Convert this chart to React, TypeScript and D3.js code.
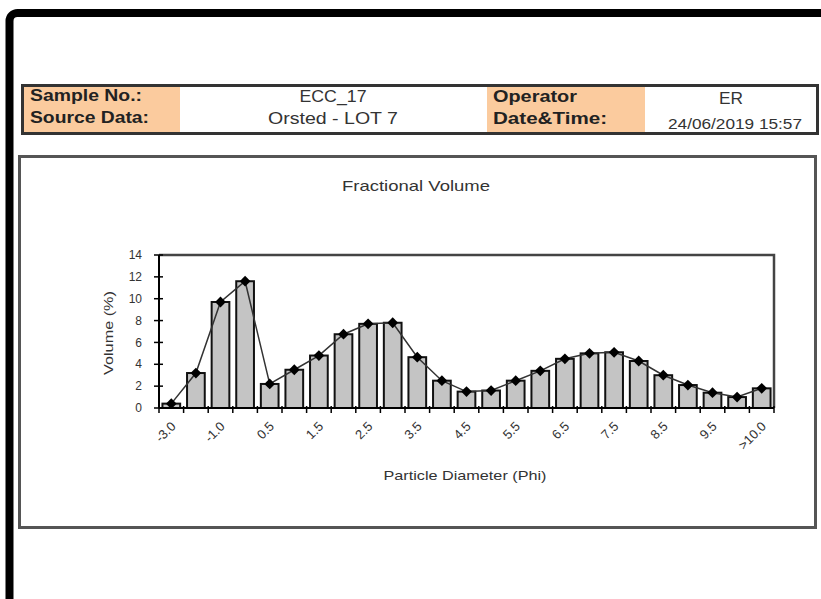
import React from 'react'
import * as d3 from 'd3'

// phi classes on the x axis
const categories = ['-3.0', '-2.0', '-1.0', '0.0', '0.5', '1.0', '1.5', '2.0', '2.5', '3.0', '3.5', '4.0', '4.5', '5.0', '5.5', '6.0', '6.5', '7.0', '7.5', '8.0', '8.5', '9.0', '9.5', '10.0', '>10.0']
// fractional volume (%)
const volumes = [0.4, 3.2, 9.7, 11.6, 2.2, 3.5, 4.8, 6.75, 7.7, 7.8, 4.65, 2.5, 1.5, 1.6, 2.5, 3.4, 4.5, 5.0, 5.1, 4.3, 3.0, 2.1, 1.4, 1.0, 1.8]
const yTicks = [0, 2, 4, 6, 8, 10, 12, 14]

const headerLabels = ['Sample No.:', 'Source Data:', 'Operator', 'Date&Time:']
const headerValues = ['ECC_17', 'Orsted - LOT 7', 'ER', '24/06/2019 15:57']

const W = 821
const H = 599
const FONT = 'Arial, "Liberation Sans", sans-serif'

export default function App() {
  //布局常量
  const [top, right, bottom, left] = [255, 774, 408, 159]

  const x = d3.scaleBand<string>()
    .domain(categories)
    .range([left, right])
    .paddingInner(0.28)
    .paddingOuter(0.14)
  const y = d3.scaleLinear().domain([0, 14]).range([bottom, top])
  const band = x.bandwidth()
  const cx = (c: string) => (x(c) as number) + band / 2

  const pts: [number, number][] = categories.map((c, i) => [cx(c), y(volumes[i])])
  const line = d3.line()(pts) || ''
  // 方块转45度当菱形
  const marker = d3.symbol().type(d3.symbolSquare).size(58)() || ''

  const boundaries = d3.range(categories.length + 1).map(i => left + i * (right - left) / categories.length)

  return (
    <svg width={W} height={H} style={{ position: 'absolute', left: 0, top: 0, background: '#fff' }} fontFamily={FONT}>
      {/* outer frame */}
      <rect x={9.5} y={13} width={900} height={700} rx={8} fill="none" stroke="#000" strokeWidth={8} />

      {/* header table */}
      <g>
        <rect x={22} y={86} width={158} height={47} fill="#fbcb9e" />
        <rect x={487} y={86} width={158} height={47} fill="#fbcb9e" />
        <rect x={22.5} y={85.5} width={795} height={48} fill="none" stroke="#333" strokeWidth={3} />
        <text x={30} y={101} fontSize={17} fontWeight="bold" fill="#222" textLength={112} lengthAdjust="spacingAndGlyphs">{headerLabels[0]}</text>
        <text x={30} y={123} fontSize={17} fontWeight="bold" fill="#222" textLength={119} lengthAdjust="spacingAndGlyphs">{headerLabels[1]}</text>
        <text x={493} y={102} fontSize={17} fontWeight="bold" fill="#222" textLength={84} lengthAdjust="spacingAndGlyphs">{headerLabels[2]}</text>
        <text x={493} y={124} fontSize={17} fontWeight="bold" fill="#222" textLength={114} lengthAdjust="spacingAndGlyphs">{headerLabels[3]}</text>
        <text x={333} y={102} fontSize={17} textAnchor="middle" fill="#333" textLength={67} lengthAdjust="spacingAndGlyphs">{headerValues[0]}</text>
        <text x={333} y={124} fontSize={17} textAnchor="middle" fill="#333" textLength={130} lengthAdjust="spacingAndGlyphs">{headerValues[1]}</text>
        <text x={731} y={104} fontSize={17} textAnchor="middle" fill="#333" textLength={24} lengthAdjust="spacingAndGlyphs">{headerValues[2]}</text>
        <text x={735} y={129} fontSize={14} textAnchor="middle" fill="#333" textLength={134} lengthAdjust="spacingAndGlyphs">{headerValues[3]}</text>
      </g>

      {/* chart box */}
      <rect x={19.5} y={156.5} width={796} height={371} fill="#fff" stroke="#555" strokeWidth={3} />

      <text x={416} y={191} fontSize={15} textAnchor="middle" fill="#333" textLength={148} lengthAdjust="spacingAndGlyphs">Fractional Volume</text>

      {/* plot frame top / right */}
      <path d={`M${left},${top}H${right}V${bottom}`} fill="none" stroke="#444" strokeWidth={2.5} />

      {/* bars */}
      {categories.map((c, i) => (
        <rect key={c} x={x(c)} y={y(volumes[i])} width={band} height={bottom - y(volumes[i])}
          fill="#c4c4c4" stroke="#111" strokeWidth={2} />
      ))}

      {/* line + markers */}
      <path d={line} fill="none" stroke="#333" strokeWidth={1.5} />
      {pts.map((p, i) => (
        <path key={i} d={marker} transform={`translate(${p[0]},${p[1]}) rotate(45)`} fill="#000" />
      ))}

      {/* axes */}
      <line x1={left} x2={right} y1={bottom} y2={bottom} stroke="#000" strokeWidth={2} />
      <line x1={left} x2={left} y1={top} y2={bottom} stroke="#000" strokeWidth={2} />
      {boundaries.map((bx, i) => (
        <line key={i} x1={bx} x2={bx} y1={bottom - 2} y2={bottom + 5} stroke="#000" strokeWidth={1.5} />
      ))}
      {yTicks.map(t => (
        <g key={t}>
          <line x1={left - 5} x2={left + 4} y1={y(t)} y2={y(t)} stroke="#000" strokeWidth={1.5} />
          <text x={142} y={y(t)} dy="0.35em" fontSize={12} textAnchor="end" fill="#333">{t}</text>
        </g>
      ))}
      {categories.map((c, i) => i % 2 === 0 ? (
        <text key={c} transform={`translate(${cx(c) + 2},${bottom + 16}) rotate(-45)`} fontSize={13}
          textAnchor="end" dy="0.35em" fill="#333">{c}</text>
      ) : null)}

      <text transform={`translate(108,333) rotate(-90)`} fontSize={13} textAnchor="middle" dy="0.35em" fill="#333"
        textLength={84} lengthAdjust="spacingAndGlyphs">Volume (%)</text>
      <text x={465} y={480} fontSize={13} textAnchor="middle" fill="#333" textLength={163} lengthAdjust="spacingAndGlyphs">Particle Diameter (Phi)</text>
    </svg>
  )
}
